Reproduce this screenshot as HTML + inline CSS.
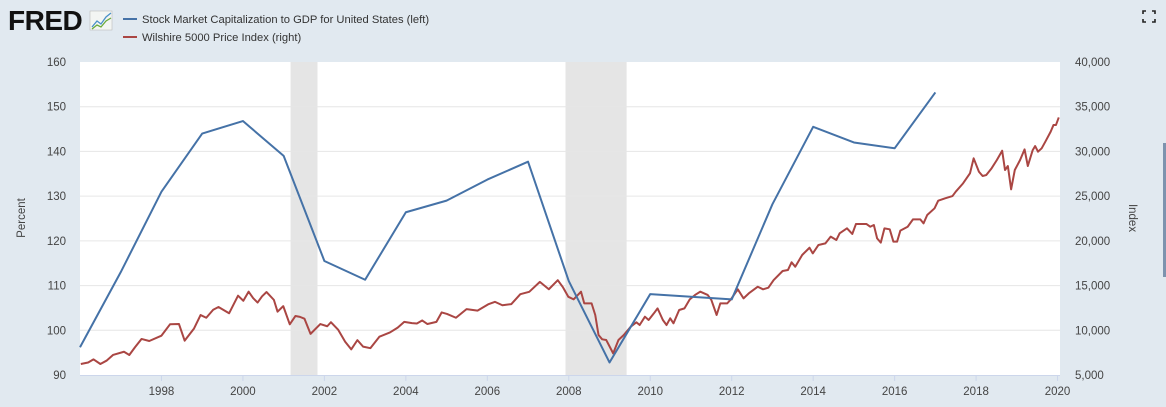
<!DOCTYPE html>
<html><head><meta charset="utf-8"><style>
body{margin:0;width:1166px;height:407px;background:#e1e9f0;font-family:"Liberation Sans",sans-serif;overflow:hidden;position:relative}
</style></head><body>
<svg width="1166" height="407" style="position:absolute;left:0;top:0">
<g>
<text x="8" y="30" font-size="28" font-weight="bold" fill="#111" font-family="Liberation Sans, sans-serif" letter-spacing="-0.5">FRED</text>
<rect x="90" y="11" width="22" height="19" fill="#f3f5f3" stroke="#bbb" stroke-width="0.6"/>
<polyline points="92,27 97,21 101,24 106,17 111,13" fill="none" stroke="#4a90c8" stroke-width="1.3"/>
<polyline points="92,29 97,25 101,27 106,21 111,18" fill="none" stroke="#6aaa3a" stroke-width="1.3"/>
</g>
<g>
<line x1="123" y1="19" x2="137" y2="19" stroke="#4572a7" stroke-width="2"/>
<text x="142" y="23" font-size="11.2" fill="#333">Stock Market Capitalization to GDP for United States (left)</text>
<line x1="123" y1="37" x2="137" y2="37" stroke="#aa4643" stroke-width="2"/>
<text x="142" y="41" font-size="11.2" fill="#333">Wilshire 5000 Price Index (right)</text>
</g>
<g fill="none" stroke="#222" stroke-width="1.6">
<path d="M1143,14v-3h3M1152,11h3v3M1155,19v3h-3M1146,22h-3v-3"/>
</g>
<rect x="1163" y="143" width="3" height="134" fill="#7d93ae"/>
<rect x="80" y="62" width="980" height="313" fill="#fff"/>
<g id="rec"></g><g id="grid"></g><g id="axes"></g><g id="series"></g>
<text transform="translate(25,218) rotate(-90)" text-anchor="middle" font-size="11.5" fill="#444">Percent</text>
<text transform="translate(1129,218) rotate(90)" text-anchor="middle" font-size="11.5" fill="#444">Index</text>
</svg>
<script>
const ns="http://www.w3.org/2000/svg";
const xTicks=[1998,2000,2002,2004,2006,2008,2010,2012,2014,2016,2018,2020];
const leftTicks=[90,100,110,120,130,140,150,160];
const rightTicks=[5000,10000,15000,20000,25000,30000,35000,40000];
const recStarts=[2001.17,2007.92];
const recEnds=[2001.83,2009.42];
const capYears=[1996,1997,1998,1999,2000,2001,2002,2003,2004,2005,2006,2007,2008,2009,2010,2011,2012,2013,2014,2015,2016,2017];
const capValues=[96.2,113,131,144,146.8,139,115.5,111.3,126.4,129,133.7,137.7,111,92.8,108.1,107.5,106.9,128.2,145.5,142,140.7,153.2];
const wilDates=[1996.02,1996.2,1996.33,1996.5,1996.65,1996.81,1997.08,1997.21,1997.35,1997.51,1997.7,1998.0,1998.21,1998.43,1998.57,1998.8,1998.96,1999.1,1999.27,1999.4,1999.66,1999.88,2000.01,2000.14,2000.25,2000.36,2000.47,2000.58,2000.76,2000.85,2000.99,2001.15,2001.29,2001.4,2001.51,2001.66,2001.9,2002.07,2002.16,2002.34,2002.51,2002.66,2002.81,2002.95,2003.13,2003.35,2003.61,2003.8,2003.96,2004.15,2004.27,2004.4,2004.53,2004.75,2004.88,2005.01,2005.23,2005.49,2005.76,2006.02,2006.19,2006.37,2006.59,2006.81,2007.03,2007.29,2007.51,2007.73,2007.86,2007.99,2008.12,2008.3,2008.38,2008.56,2008.65,2008.73,2008.82,2008.92,2009.09,2009.22,2009.35,2009.52,2009.66,2009.74,2009.87,2009.96,2010.09,2010.18,2010.31,2010.4,2010.49,2010.57,2010.71,2010.84,2010.97,2011.1,2011.23,2011.41,2011.5,2011.63,2011.72,2011.89,2011.98,2012.15,2012.29,2012.42,2012.64,2012.77,2012.9,2013.03,2013.25,2013.38,2013.47,2013.56,2013.73,2013.91,2013.99,2014.13,2014.3,2014.43,2014.57,2014.65,2014.83,2014.96,2015.05,2015.31,2015.4,2015.49,2015.57,2015.66,2015.75,2015.88,2015.97,2016.06,2016.14,2016.32,2016.45,2016.63,2016.71,2016.8,2016.98,2017.07,2017.24,2017.42,2017.5,2017.68,2017.85,2017.94,2018.07,2018.16,2018.25,2018.38,2018.51,2018.64,2018.71,2018.78,2018.86,2018.95,2019.08,2019.19,2019.27,2019.39,2019.45,2019.52,2019.61,2019.7,2019.83,2019.9,2019.96,2020.03];
const wilValues=[6230,6400,6750,6230,6600,7240,7600,7240,8100,9030,8800,9400,10670,10700,8840,10200,11700,11400,12300,12600,11900,13870,13300,14320,13600,13100,13800,14280,13400,12080,12700,10670,11600,11500,11300,9600,10700,10450,10900,10050,8720,7870,8900,8170,8000,9280,9760,10300,10940,10800,10760,11100,10700,10940,12000,11830,11400,12370,12200,12900,13180,12800,12930,14040,14300,15410,14590,15600,14790,13740,13460,14320,13010,13010,11710,9470,8990,8910,7420,8910,9470,10400,10890,10590,11520,11150,11900,12450,11150,10590,11340,10780,12270,12450,13460,13950,14320,13950,13390,11710,13010,13010,13460,14580,13570,14130,14870,14580,14760,15620,16630,16740,17600,17110,18420,19230,18600,19540,19720,20470,20100,20840,21400,20770,21880,21880,21580,21770,20280,19800,21400,21290,19910,19910,21140,21580,22400,22400,21960,22890,23640,24490,24760,25010,25500,26430,27550,29230,27730,27250,27360,28110,29040,30080,27920,28370,25760,27920,29040,30230,28370,30150,30600,29970,30350,31090,32200,32950,32950,33800];
const X0=80,X1=1060,Y0=62,Y1=375,T0=1996,T1=2020.06;
const x=t=>X0+(t-T0)/(T1-T0)*(X1-X0);
const yL=v=>Y1-(v-90)/(160-90)*(Y1-Y0);
const yR=v=>Y1-(v-5000)/(40000-5000)*(Y1-Y0);
function mk(tag,attrs,parent){const e=document.createElementNS(ns,tag);for(const k in attrs)e.setAttribute(k,attrs[k]);document.getElementById(parent).appendChild(e);return e;}
recStarts.forEach((s,i)=>{const r=mk('rect',{x:x(s),y:Y0,width:x(recEnds[i])-x(s),height:Y1-Y0,fill:'#e5e5e5'},'rec');

});
leftTicks.forEach((v,i)=>{
 if(v>90&&v<160){const g=mk('line',{x1:X0,x2:X1,y1:yL(v),y2:yL(v),stroke:'#e6e6e6','stroke-width':1},'grid');
 
 }
 const t=mk('text',{x:66,y:yL(v)+4,'text-anchor':'end','font-size':11.5,fill:'#444'},'axes');t.textContent=v;
 
 
});
rightTicks.forEach(v=>{const t=mk('text',{x:1075,y:yR(v)+4,'font-size':11.5,fill:'#444'},'axes');t.textContent=v.toLocaleString('en-US');
 
 });
mk('line',{x1:X0,x2:X1,y1:Y1+0.5,y2:Y1+0.5,stroke:'#ccd6eb'},'axes');
xTicks.forEach(yr=>{mk('line',{x1:x(yr),x2:x(yr),y1:Y1,y2:Y1+6,stroke:'#ccd6eb'},'axes');
 const t=mk('text',{x:x(yr),y:395,'text-anchor':'middle','font-size':11.5,fill:'#444'},'axes');t.textContent=yr;
 
 });
const p1=mk('polyline',{points:wilDates.map((d,i)=>x(d)+','+yR(wilValues[i])).join(' '),fill:'none',stroke:'#aa4643','stroke-width':2,'stroke-linejoin':'round'},'series');


const p2=mk('polyline',{points:capYears.map((d,i)=>x(d)+','+yL(capValues[i])).join(' '),fill:'none',stroke:'#4572a7','stroke-width':2,'stroke-linejoin':'round'},'series');


</script>
</body></html>
